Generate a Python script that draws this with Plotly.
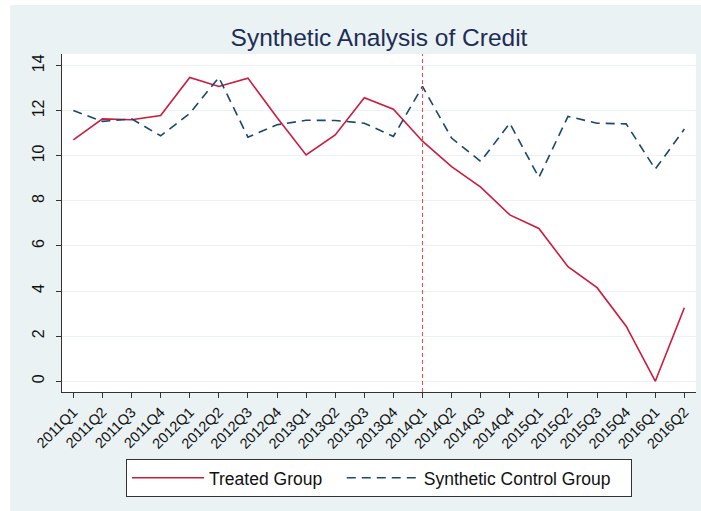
import plotly.graph_objects as go

# Quarterly periods on the x axis
quarters = [
    "2011Q1", "2011Q2", "2011Q3", "2011Q4",
    "2012Q1", "2012Q2", "2012Q3", "2012Q4",
    "2013Q1", "2013Q2", "2013Q3", "2013Q4",
    "2014Q1", "2014Q2", "2014Q3", "2014Q4",
    "2015Q1", "2015Q2", "2015Q3", "2015Q4",
    "2016Q1", "2016Q2",
]

# Credit series
treated = [
    10.71, 11.64, 11.60, 11.79,
    13.48, 13.08, 13.45, 11.70,
    10.04, 10.93, 12.58, 12.07,
    10.65, 9.52, 8.61, 7.38,
    6.78, 5.08, 4.15, 2.44,
    0.00, 3.26,
]
synthetic = [
    12.01, 11.53, 11.64, 10.89,
    11.88, 13.48, 10.83, 11.38,
    11.58, 11.57, 11.45, 10.86,
    13.08, 10.79, 9.75, 11.45,
    9.04, 11.75, 11.45, 11.42,
    9.41, 11.19,
]

# Intervention period
treatment_start = "2014Q1"

y_ticks = [0, 2, 4, 6, 8, 10, 12, 14]

BG = "#EAF2F3"
AXIS = "#333333"
FONT = "Liberation Sans, Arial, sans-serif"
NBSP = "\u00a0"  # spacing used to widen legend entries

fig = go.Figure()

fig.add_trace(go.Scatter(
    x=quarters, y=treated, mode="lines", name="Treated Group" + NBSP * 3,
    line=dict(color="#CC1B3C", width=1.6),
))
fig.add_trace(go.Scatter(
    x=quarters, y=synthetic, mode="lines", name="Synthetic Control Group" + NBSP * 3,
    line=dict(color="#1A476F", width=1.6, dash="9px,6px"),
))

# Vertical marker at the start of treatment
vx = quarters.index(treatment_start)
fig.add_shape(
    type="line", xref="x", yref="paper",
    x0=vx, x1=vx, y0=0, y1=1,
    line=dict(color="#FF4545", width=1, dash="4px,3px"),
    layer="above",
)

# White page strips around the grey-blue chart frame
fig.add_shape(type="rect", xref="paper", yref="paper",
              x0=-0.2, x1=1.2, y0=1.145, y1=1.3,
              fillcolor="white", line_width=0, layer="below")
fig.add_shape(type="rect", xref="paper", yref="paper",
              x0=-0.2, x1=-0.082, y0=-0.5, y1=1.3,
              fillcolor="white", line_width=0, layer="below")

fig.update_layout(
    width=701, height=511,
    margin=dict(l=62, r=5, t=54, b=119),
    paper_bgcolor=BG,
    plot_bgcolor="white",
    font=dict(family=FONT, color="#111111"),
    title=dict(
        text="Synthetic Analysis of Credit",
        font=dict(family=FONT, size=24.5, color="#1E2D54"),
        x=0.5, xref="paper", xanchor="center",
        y=1 - 37 / 511, yref="container", yanchor="middle",
    ),
    showlegend=True,
    legend=dict(
        orientation="h",
        x=0.5, xanchor="center",
        y=-0.198, yanchor="top",
        bgcolor="white",
        bordercolor=AXIS, borderwidth=1,
        font=dict(family=FONT, size=17.5, color="#111111"),
        itemwidth=72,
    ),
    xaxis=dict(
        type="category",
        range=[-0.39, 21.4],
        showgrid=False,
        showline=True, linecolor=AXIS, linewidth=1,
        ticks="outside", ticklen=5, tickcolor=AXIS,
        tickangle=-45,
        tickfont=dict(family=FONT, size=14.5, color="#111111"),
        zeroline=False,
    ),
    yaxis=dict(
        range=[-0.48, 14.52],
        tickvals=y_ticks,
        showgrid=True, gridcolor=BG, gridwidth=1,
        showline=True, linecolor=AXIS, linewidth=1,
        ticks="outside", ticklen=5, tickcolor=AXIS,
        tickangle=-90,
        tickfont=dict(family=FONT, size=16, color="#111111"),
        ticklabelstandoff=6,
        zeroline=False,
    ),
)

fig.write_html("out.html")
